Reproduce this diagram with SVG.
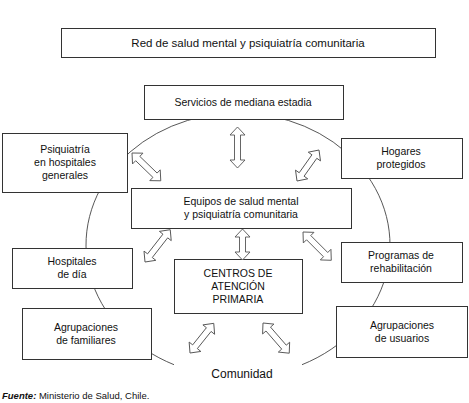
<svg xmlns="http://www.w3.org/2000/svg" width="469" height="403" viewBox="0 0 469 403">
<style>
.box{fill:#fff;stroke:#333;stroke-width:1}
.t{font-family:"Liberation Sans",Arial,sans-serif;font-size:10.5px;fill:#111;text-anchor:middle}
.arr{fill:#fff;stroke:#555;stroke-width:0.9;stroke-linejoin:miter}
.ring{fill:none;stroke:#444;stroke-width:0.9}
</style>
<rect width="469" height="403" fill="#fff"/>
<path class="ring" d="M 302 364.7 A 152 132 0 1 0 174 364.7"/>
<g id="title"><rect class="box" x="61.5" y="28.5" width="374" height="29"/><text class="t" x="248" y="47" style="font-size:11.5px">Red de salud mental y psiquiatría comunitaria</text></g>
<g id="servicios"><rect class="box" x="144.5" y="85.5" width="199" height="34"/><text class="t" x="243" y="106">Servicios de mediana estadia</text></g>
<g id="psiquiatria"><rect class="box" x="2.5" y="133.5" width="125" height="59"/><text class="t" x="65" y="153">Psiquiatría</text><text class="t" x="65" y="166">en hospitales</text><text class="t" x="65" y="179">generales</text></g>
<g id="hogares"><rect class="box" x="341.5" y="138.5" width="121" height="40"/><text class="t" x="401" y="155">Hogares</text><text class="t" x="401" y="168">protegidos</text></g>
<g id="equipos"><rect class="box" x="131.5" y="188.5" width="220" height="40"/><text class="t" x="241" y="205">Equipos de salud mental</text><text class="t" x="241" y="218">y psiquiatría comunitaria</text></g>
<g id="hospitales"><rect class="box" x="12.5" y="248.5" width="120" height="40"/><text class="t" x="72" y="265">Hospitales</text><text class="t" x="72" y="278">de día</text></g>
<g id="programas"><rect class="box" x="341.5" y="242.5" width="121" height="40"/><text class="t" x="401" y="259">Programas de</text><text class="t" x="401" y="272">rehabilitación</text></g>
<g id="centros"><rect class="box" x="174.5" y="259.5" width="128" height="54"/><text class="t" x="238" y="277">CENTROS DE</text><text class="t" x="238" y="290">ATENCIÓN</text><text class="t" x="238" y="303">PRIMARIA</text></g>
<g id="familiares"><rect class="box" x="22.5" y="308.5" width="129" height="51"/><text class="t" x="86" y="331">Agrupaciones</text><text class="t" x="86" y="344">de familiares</text></g>
<g id="usuarios"><rect class="box" x="336.5" y="306.5" width="131" height="51"/><text class="t" x="402" y="329">Agrupaciones</text><text class="t" x="402" y="342">de usuarios</text></g>
<g id="comunidad"><text class="t" x="242" y="378" style="font-size:12px">Comunidad</text></g>
<g id="connectors">
<polygon class="arr" transform="translate(237.5,127) rotate(90)" points="0,0 8,-7.5 8,-3 33,-3 33,-7.5 41,0 33,7.5 33,3 8,3 8,7.5"/>
<polygon class="arr" transform="translate(132,153) rotate(44)" points="0,0 8,-7.5 8,-3 32,-3 32,-7.5 40,0 32,7.5 32,3 8,3 8,7.5"/>
<polygon class="arr" transform="translate(297,181) rotate(-54.6)" points="0,0 8,-7.5 8,-3 30,-3 30,-7.5 38,0 30,7.5 30,3 8,3 8,7.5"/>
<polygon class="arr" transform="translate(145,262) rotate(-52)" points="0,0 8,-7.5 8,-3 33,-3 33,-7.5 41,0 33,7.5 33,3 8,3 8,7.5"/>
<polygon class="arr" transform="translate(242.5,229) rotate(90)" points="0,0 8,-7.5 8,-3 23,-3 23,-7.5 31,0 23,7.5 23,3 8,3 8,7.5"/>
<polygon class="arr" transform="translate(303,232) rotate(45)" points="0,0 8,-7.5 8,-3 32,-3 32,-7.5 40,0 32,7.5 32,3 8,3 8,7.5"/>
<polygon class="arr" transform="translate(190,353) rotate(-51.3)" points="0,0 8,-7.5 8,-3 30,-3 30,-7.5 38,0 30,7.5 30,3 8,3 8,7.5"/>
<polygon class="arr" transform="translate(263,323) rotate(49)" points="0,0 8,-7.5 8,-3 32,-3 32,-7.5 40,0 32,7.5 32,3 8,3 8,7.5"/>
</g>
<g id="fuente"><text x="2" y="399" style="font-family:'Liberation Sans',Arial,sans-serif;font-size:9.5px;fill:#111"><tspan font-weight="bold" font-style="italic">Fuente:</tspan> Ministerio de Salud, Chile.</text></g>
</svg>
